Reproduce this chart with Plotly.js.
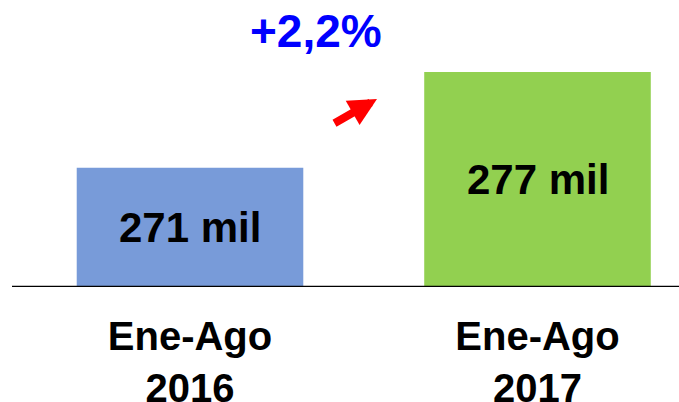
<!DOCTYPE html>
<html>
<head>
<meta charset="utf-8">
<script src="https://cdn.plot.ly/plotly-3.0.1.min.js"></script>
<style>html,body{margin:0;padding:0;background:#fff;}#chart{width:679px;height:402px;}</style>
</head>
<body>
<div id="chart"></div>
<script>
// Data
const categories = ['Ene-Ago<br>2016', 'Ene-Ago<br>2017'];
const values = [271, 277];
const valueLabels = ['271 mil', '277 mil'];
const barColors = ['#789BD9', '#92D050'];
const changeLabel = '+2,2%';

const yMin = 263.52, yMax = 281.51;

const trace = {
  type: 'bar',
  x: [0, 1],
  y: values,
  marker: {color: barColors, line: {width: 0}},
  hoverinfo: 'none'
};

const annotations = values.map((v, i) => ({
  x: i, y: (yMin + v) / 2, xref: 'x', yref: 'y',
  text: '<b>' + valueLabels[i] + '</b>', showarrow: false,
  font: {family: 'Liberation Sans, Arial, sans-serif', size: 42, color: '#000'},
  xanchor: 'center', yanchor: 'middle'
}));

annotations.push({
  x: 315.5/679, y: 1 - 31/287, xref: 'paper', yref: 'paper',
  text: '<b>' + changeLabel + '</b>', showarrow: false,
  font: {family: 'Liberation Sans, Arial, sans-serif', size: 46, color: '#0000FF'},
  xanchor: 'center', yanchor: 'middle'
});

annotations.push({
  x: 377/679, y: 1 - 99/287, xref: 'paper', yref: 'paper',
  text: '', showarrow: true, arrowhead: 2, arrowsize: 0.7, arrowwidth: 8,
  arrowcolor: '#FF0000', ax: -44, ay: 25, standoff: 0, startstandoff: 0
});

const layout = {
  width: 679, height: 402,
  margin: {l: 0, r: 0, t: 0, b: 115},
  paper_bgcolor: '#fff', plot_bgcolor: '#fff',
  showlegend: false,
  bargap: 0.348,
  xaxis: {
    range: [-190/347.5, (679-190)/347.5],
    tickvals: [0, 1], ticktext: categories.map(c => '<b>' + c + '</b>'),
    tickfont: {family: 'Liberation Sans, Arial, sans-serif', size: 40, color: '#000'},
    ticklabelstandoff: 22,
    showgrid: false, zeroline: false, showline: false, ticks: '',
    fixedrange: true
  },
  yaxis: {
    range: [yMin, yMax], visible: false, showgrid: false, zeroline: false, fixedrange: true
  },
  shapes: [
    {type: 'line', xref: 'paper', yref: 'y', x0: 53/679, x1: 1, y0: yMin, y1: yMin,
     line: {color: '#999', width: 2}},
    {type: 'line', xref: 'paper', yref: 'y', x0: 12/679, x1: 1, y0: yMin, y1: yMin,
     line: {color: '#000', width: 2.5}}
  ],
  annotations: annotations
};

Plotly.newPlot('chart', [trace], layout, {displayModeBar: false, staticPlot: true});
</script>
</body>
</html>
